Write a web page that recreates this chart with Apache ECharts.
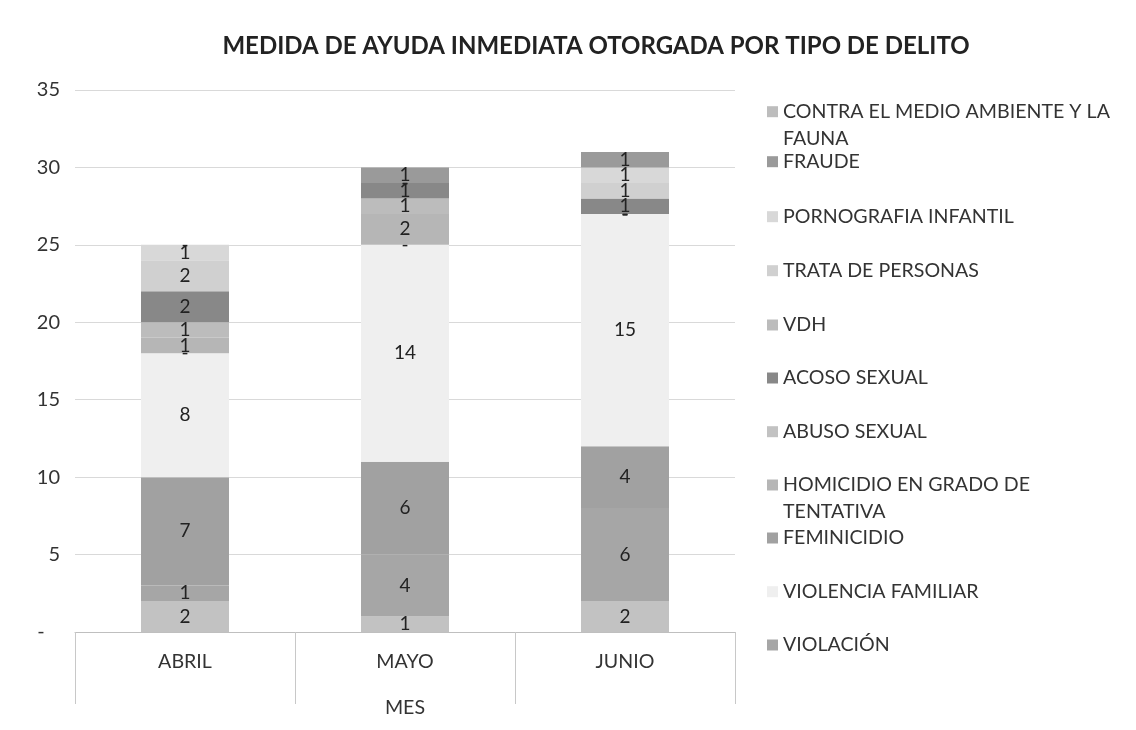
<!DOCTYPE html>
<html>
<head>
<meta charset="utf-8">
<script src="https://cdn.jsdelivr.net/npm/echarts@6/dist/echarts.min.js"></script>
<style>
html,body{margin:0;padding:0;background:#fff;}
#c{width:1136px;height:730px;}
</style>
</head>
<body>
<div id="c"></div>
<script>
// ---- DATA ----
const months = ['ABRIL', 'MAYO', 'JUNIO'];
const yTicks = [0, 5, 10, 15, 20, 25, 30, 35];
// series in stacking order, bottom to top
const abusoSexual      = [2, 1, 2];
const violacion        = [1, 4, 6];
const feminicidio      = [7, 6, 4];
const violenciaFamiliar= [8, 14, 15];
const contraMedio      = [0, 0, 0];
const homicidio        = [1, 2, 0];
const vdh              = [1, 1, 0];
const acosoSexual      = [2, 1, 1];
const trata            = [2, 0, 1];
const pornografia      = [1, 0, 1];
const fraude           = [0, 1, 1];
// legend order (top to bottom, as in the reference)
const legendNames = [
  'CONTRA EL MEDIO AMBIENTE Y LA FAUNA', 'FRAUDE', 'PORNOGRAFIA INFANTIL',
  'TRATA DE PERSONAS', 'VDH', 'ACOSO SEXUAL', 'ABUSO SEXUAL',
  'HOMICIDIO EN GRADO DE TENTATIVA', 'FEMINICIDIO', 'VIOLENCIA FAMILIAR', 'VIOLACIÓN'
];
const legendLabels = {
  'CONTRA EL MEDIO AMBIENTE Y LA FAUNA': '\nCONTRA EL MEDIO AMBIENTE Y LA\nFAUNA',
  'HOMICIDIO EN GRADO DE TENTATIVA': '\nHOMICIDIO EN GRADO DE\nTENTATIVA'
};

const stack = [
  ['ABUSO SEXUAL', abusoSexual, '#c2c2c2'],
  ['VIOLACIÓN', violacion, '#a6a6a6'],
  ['FEMINICIDIO', feminicidio, '#a1a1a1'],
  ['VIOLENCIA FAMILIAR', violenciaFamiliar, '#efefef'],
  ['CONTRA EL MEDIO AMBIENTE Y LA FAUNA', contraMedio, '#bdbdbd'],
  ['HOMICIDIO EN GRADO DE TENTATIVA', homicidio, '#b6b6b6'],
  ['VDH', vdh, '#bcbcbc'],
  ['ACOSO SEXUAL', acosoSexual, '#888888'],
  ['TRATA DE PERSONAS', trata, '#d0d0d0'],
  ['PORNOGRAFIA INFANTIL', pornografia, '#d8d8d8'],
  ['FRAUDE', fraude, '#9a9a9a']
];

const FONT = 'Lato';
const FS = 19.6;
const LH = 26.7;

const series = stack.map(([name, data, color]) => ({
  name, type: 'bar', stack: 'total', data,
  barWidth: '40%',
  itemStyle: { color },
  label: {
    show: true, position: 'inside', color: '#222', fontFamily: FONT, fontSize: 19,
    formatter: p => (p.value === 0 ? '-' : String(p.value))
  }
}));

const slotCenters = [111.7, 161.7, 216.7, 270.7, 325, 378, 431.7, 485, 538, 591.7, 645];
const legends = legendNames.map((n, i) => {
  const twoLine = !!legendLabels[n];
  const blockH = twoLine ? 3 * LH : LH;
  return {
    data: [n], orient: 'vertical', left: 762,
    top: slotCenters[i] - blockH / 2 - 5,
    itemWidth: 11, itemHeight: 11, itemGap: 0,
    icon: 'rect',
    selectedMode: false,
    formatter: name => legendLabels[name] || name,
    textStyle: { fontFamily: FONT, fontSize: FS, color: '#333', lineHeight: LH }
  };
});

const chart = echarts.init(document.getElementById('c'));
chart.setOption({
  backgroundColor: '#ffffff',
  animation: false,
  title: {
    text: 'MEDIDA DE AYUDA INMEDIATA OTORGADA POR TIPO DE DELITO',
    left: 591, top: 29, textAlign: 'center',
    textStyle: { fontFamily: FONT, fontSize: 24, fontWeight: 'bold', color: '#222' }
  },
  legend: legends,
  grid: { left: 75, right: 401, top: 90, bottom: 98 },
  xAxis: {
    type: 'category', data: months,
    name: 'MES', nameLocation: 'middle', nameGap: 66,
    nameTextStyle: { fontFamily: FONT, fontSize: FS, color: '#333' },
    axisLine: { lineStyle: { color: '#bfbfbf' } },
    axisTick: { show: true, length: 72, lineStyle: { color: '#c8c8c8' } },
    axisLabel: { fontFamily: FONT, fontSize: FS, color: '#333', margin: 20 }
  },
  yAxis: {
    type: 'value', min: yTicks[0], max: yTicks[yTicks.length - 1], interval: 5,
    axisLine: { show: false }, axisTick: { show: false },
    splitLine: { lineStyle: { color: '#d9d9d9' } },
    axisLabel: {
      fontFamily: FONT, fontSize: 20, color: '#333', margin: 15,
      formatter: v => (v === 0 ? '-   ' : String(v))
    }
  },
  series
});
</script>
</body>
</html>
